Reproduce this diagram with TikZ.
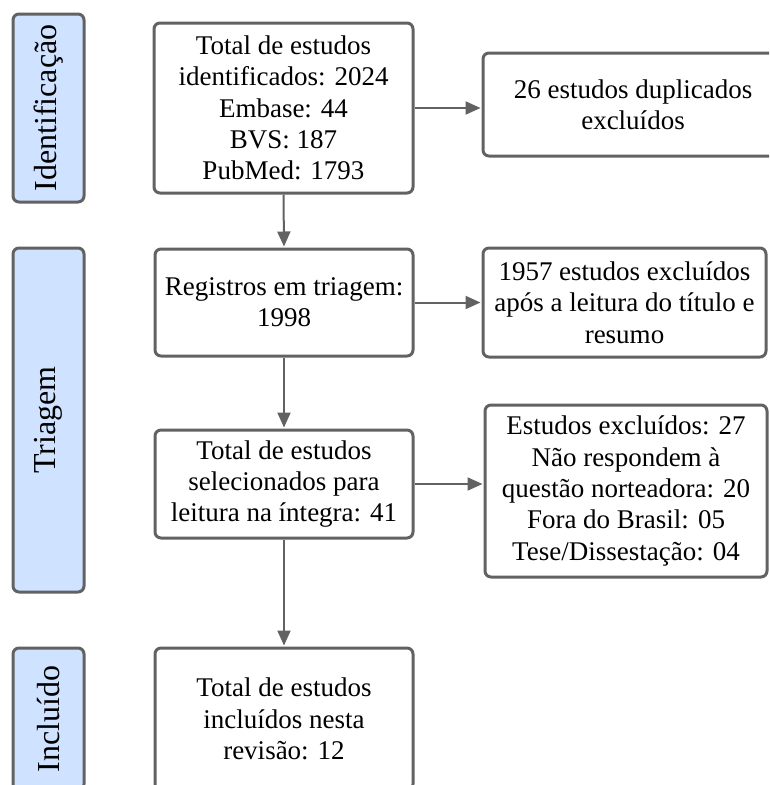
\documentclass[tikz,border=0pt]{standalone}
\usepackage{fontspec}
\setmainfont{Liberation Serif}
\usetikzlibrary{arrows.meta}
\definecolor{edge}{HTML}{626262}
\definecolor{lblue}{HTML}{CFE2FF}
\tikzset{
  box/.style={draw=edge, line width=3pt, rounded corners=6pt, fill=white,
    align=center, inner sep=0pt, font=\fontsize{27}{31.3}\selectfont},
  lab/.style={draw=edge, line width=3pt, rounded corners=6pt, fill=lblue,
    rotate=90, inner sep=0pt, font=\fontsize{32}{36}\selectfont},
  arr/.style={draw=edge, line width=2pt, -{Triangle[length=15pt,width=13pt]}, shorten >=1pt}
}
\begin{document}
\begin{tikzpicture}[x=1pt,y=-1pt]
\useasboundingbox (0,0) rectangle (769,785);
\clip (0,0) rectangle (769,785);
% phase labels
\node[lab, minimum width=188pt, minimum height=71pt] (l1) at (48.5,108) {Identificação};
\node[lab, minimum width=344pt, minimum height=71pt] (l2) at (48.5,420) {Triagem};
\node[lab, minimum width=142pt, minimum height=71pt] (l3) at (48.5,719) {Incluído};
% main boxes
\node[box, minimum width=259pt, minimum height=170pt] (b1) at (283.5,108)
  {Total de estudos\\identificados: 2024\\Embase: 44\\BVS: 187\\PubMed: 1793};
\node[box, minimum width=258pt, minimum height=107pt] (b2) at (284,302.5)
  {Registros em triagem:\\1998};
\node[box, minimum width=258pt, minimum height=108pt] (b3) at (284,484)
  {Total de estudos\\selecionados para\\leitura na íntegra: 41};
\node[box, minimum width=258pt, minimum height=142pt] (b4) at (284,719)
  {Total de estudos\\incluídos nesta\\revisão: 12};
% right boxes
\node[box, minimum width=300pt, minimum height=103pt] (r1) at (633,104.5)
  {26 estudos duplicados\\excluídos};
\node[box, minimum width=283pt, minimum height=109pt] (r2) at (624.5,302.5)
  {1957 estudos excluídos\\após a leitura do título e\\resumo};
\node[box, minimum width=282pt, minimum height=172pt] (r3) at (626,491)
  {Estudos excluídos: 27\\Não respondem à\\questão norteadora: 20\\Fora do Brasil: 05\\Tese/Dissestação: 04};
% connectors
\draw[arr] (b1.south) -- (b2.north);
\draw[arr] (b2.south) -- (b3.north);
\draw[arr] (b3.south) -- (b4.north);
\draw[arr] (b1.east) -- (b1.east -| r1.west);
\draw[arr] (b2.east) -- (b2.east -| r2.west);
\draw[arr] (b3.east) -- (b3.east -| r3.west);
\end{tikzpicture}
\end{document}
